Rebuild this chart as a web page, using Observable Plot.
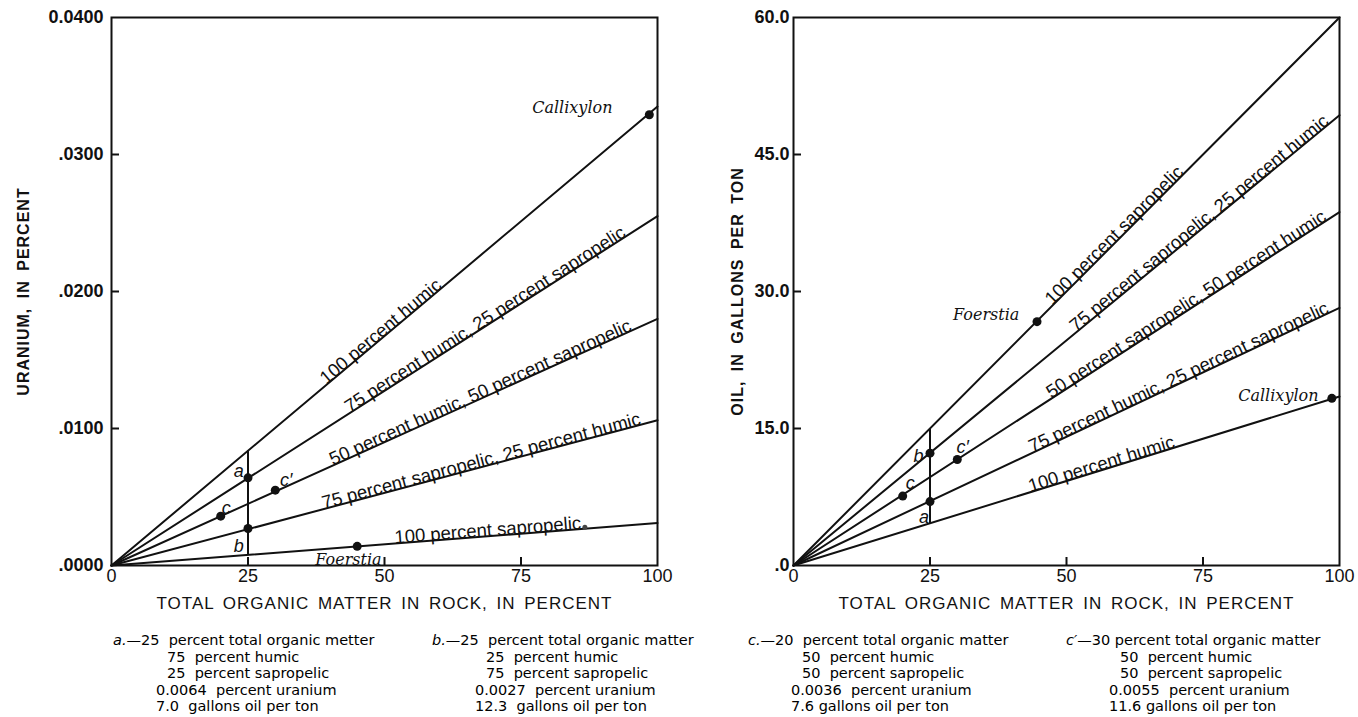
<!DOCTYPE html>
<html><head><meta charset="utf-8">
<script src="https://cdn.jsdelivr.net/npm/d3@7"></script>
<script src="https://cdn.jsdelivr.net/npm/@observablehq/plot@0.6"></script>
<style>
body{margin:0;background:#fff;}
#wrap{position:relative;width:1358px;height:717px;overflow:hidden;background:#fff;}
#left{position:absolute;left:0;top:0;}
#right{position:absolute;left:680px;top:0;}
.cap{position:absolute;top:632px;font-family:"DejaVu Sans",sans-serif;font-size:14.5px;line-height:16.5px;white-space:pre;color:#000;}
.cap div.i1{padding-left:54px;}
.cap div.i2{padding-left:43px;}
</style></head><body>
<div id="wrap"><div id="left"></div><div id="right"></div></div>
<script>
// ---------- data ----------
const xTicks = [0, 25, 50, 75, 100];
const xTickLabels = ["0", "25", "50", "75", "100"];
const xTitle = "TOTAL ORGANIC MATTER IN ROCK, IN PERCENT";

const uTicks = [0, 0.01, 0.02, 0.03, 0.04];
const uTickLabels = [".0000", ".0100", ".0200", ".0300", "0.0400"];
const uTitle = "URANIUM, IN PERCENT";
const uSeries = ["100 percent humic", "75 percent humic, 25 percent sapropelic", "50 percent humic, 50 percent sapropelic", "75 percent sapropelic, 25 percent humic", "100 percent sapropelic"];
const uAt100 = [0.0335, 0.0255, 0.0180, 0.0106, 0.0031];
const uLabelX = [50, 69, 68, 68, 69];

const oilTicks = [0, 15, 30, 45, 60];
const oilTickLabels = [".0", "15.0", "30.0", "45.0", "60.0"];
const oilTitle = "OIL, IN GALLONS PER TON";
const oilSeries = ["100 percent sapropelic", "75 percent sapropelic, 25 percent humic", "50 percent sapropelic, 50 percent humic", "75 percent humic, 25 percent sapropelic", "100 percent humic"];
const oilAt100 = [60, 49.3, 38.7, 28.2, 18.5];
const oilLabelX = [59.5, 75, 72.5, 71, 56.7];

const sampleNames = ["a", "b", "c", "c\u2032"];
const sampleOM = [25, 25, 20, 30];
const sampleU = [0.0064, 0.0027, 0.0036, 0.0055];
const sampleOil = [7.0, 12.3, 7.6, 11.6];
const uLetterX = [23.3, 23.3, 21, 32];
const uLetterY = [0.0069, 0.0014, 0.0042, 0.0062];
const oilLetterX = [23.9, 22.9, 21.4, 31];
const oilLetterY = [5.3, 12.0, 9.0, 12.9];

const fossils = ["Callixylon", "Foerstia"];
const fossilOMu = [98.5, 45];
const fossilU = [0.0329, 0.0014];
const fossilLabelUx = [84.4, 43.4];
const fossilLabelUy = [0.0334, 0.0004];
const fossilOMoil = [98.6, 44.6];
const fossilOil = [18.3, 26.7];
const fossilLabelOilX = [88.8, 35.3];
const fossilLabelOilY = [18.6, 27.4];
const strayU = [{x: 86.7, y: 0.0028}];

const rulerOM = 25;
const uRuler = [0.0008, 0.0084];
const oilRuler = [4.6, 15.0];

const capLefts = [113, 432, 748, 1066];
const captionA = ["<i>a.</i>\u201425  percent total organic metter", "75  percent humic", "25  percent sapropelic", "0.0064  percent uranium", "7.0  gallons oil per ton"];
const captionB = ["<i>b.</i>\u201425  percent total organic matter", "25  percent humic", "75  percent sapropelic", "0.0027  percent uranium", "12.3  gallons oil per ton"];
const captionC = ["<i>c.</i>\u201420  percent total organic matter", "50  percent humic", "50  percent sapropelic", "0.0036  percent uranium", "7.6 gallons oil per ton"];
const captionC2 = ["<i>c\u2032</i>\u201430 percent total organic matter", "50  percent humic", "50  percent sapropelic", "0.0055  percent uranium", "11.6 gallons oil per ton"];

// ---------- drawing ----------
const PW = 546, PH = 548;
const SANS = "Liberation Sans, Arial, sans-serif";
const SERIF = "DejaVu Serif, serif";
const INK = "#111";

function panel(cfg) {
  const lineRows = cfg.series.flatMap((s, i) => [{s, x: 0, y: 0}, {s, x: 100, y: cfg.at100[i]}]);
  const labelRows = cfg.series.map((s, i) => ({
    s, x: cfg.labelX[i], y: cfg.at100[i] * cfg.labelX[i] / 100,
    r: -Math.atan((cfg.at100[i] / cfg.yMax * PH) / PW) * 180 / Math.PI
  }));
  const samples = sampleNames.map((n, i) => ({n, x: sampleOM[i], y: cfg.sampleY[i], lx: cfg.letterX[i], ly: cfg.letterY[i]}));
  const fos = fossils.map((n, i) => ({n, x: cfg.fosX[i], y: cfg.fosY[i], lx: cfg.fosLX[i], ly: cfg.fosLY[i]}));
  const inner = cfg.yTicks.slice(1, -1);
  return Plot.plot({
    width: cfg.width, height: 620,
    marginLeft: cfg.ml, marginRight: cfg.width - cfg.ml - PW, marginTop: 17, marginBottom: 55,
    x: {domain: [0, 100]},
    y: {domain: [0, cfg.yMax]},
    style: {background: "white", color: INK, overflow: "visible"},
    marks: [
      Plot.line(lineRows, {x: "x", y: "y", z: "s", stroke: INK, strokeWidth: 2}),
      Plot.ruleX([{x: rulerOM, y1: cfg.ruler[0], y2: cfg.ruler[1]}], {x: "x", y1: "y1", y2: "y2", stroke: INK, strokeWidth: 2}),
      Plot.frame({stroke: INK, strokeWidth: 2}),
      Plot.axisX({ticks: [25, 50, 75], tickSize: 8, dy: -8, tickFormat: () => "", label: null, strokeWidth: 2}),
      Plot.axisY({ticks: inner, tickSize: 8, dx: 8, tickFormat: () => "", label: null, strokeWidth: 2}),
      Plot.axisX({ticks: xTicks, tickSize: 0, tickPadding: 4, tickFormat: d => xTickLabels[xTicks.indexOf(d)], label: null, fontSize: 18, fontFamily: SANS}),
      Plot.axisY({ticks: cfg.yTicks, tickSize: 0, tickPadding: cfg.yPad, tickFormat: d => cfg.yLabels[cfg.yTicks.indexOf(d)], label: null, fontSize: 18, fontWeight: "bold", fontFamily: SANS}),
      Plot.text([cfg.yTitle], {frameAnchor: "left", textAnchor: "middle", lineAnchor: "middle", rotate: -90, dx: cfg.yTitleDx, fontSize: 16, fontWeight: "bold", fontFamily: SANS}),
      Plot.text([xTitle], {frameAnchor: "bottom", textAnchor: "middle", lineAnchor: "middle", dy: 38, fontSize: 17, fontFamily: SANS}),
      Plot.text(labelRows, {x: "x", y: "y", text: "s", rotate: "r", lineAnchor: "bottom", fontSize: 18.5, fontFamily: SANS, fill: INK}),
      Plot.dot(samples, {x: "x", y: "y", r: 4.5, fill: INK}),
      Plot.text(samples, {x: "lx", y: "ly", text: "n", fontSize: 18, fontStyle: "italic", fontFamily: SANS, fill: INK}),
      Plot.dot(fos, {x: "x", y: "y", r: 4.5, fill: INK}),
      Plot.text(fos, {x: "lx", y: "ly", text: "n", fontSize: 16, fontStyle: "italic", fontFamily: SERIF, fill: INK}),
      Plot.dot(cfg.stray, {x: "x", y: "y", r: 2.5, fill: "#444"})
    ]
  });
}

const left = panel({
  width: 680, ml: 111, yMax: 0.04, yTicks: uTicks, yLabels: uTickLabels, yPad: 8,
  yTitle: uTitle, yTitleDx: -88, series: uSeries, at100: uAt100, labelX: uLabelX,
  sampleY: sampleU, letterX: uLetterX, letterY: uLetterY,
  fosX: fossilOMu, fosY: fossilU, fosLX: fossilLabelUx, fosLY: fossilLabelUy,
  ruler: uRuler, stray: strayU
});
const right = panel({
  width: 678, ml: 113, yMax: 60, yTicks: oilTicks, yLabels: oilTickLabels, yPad: 4,
  yTitle: oilTitle, yTitleDx: -56, series: oilSeries, at100: oilAt100, labelX: oilLabelX,
  sampleY: sampleOil, letterX: oilLetterX, letterY: oilLetterY,
  fosX: fossilOMoil, fosY: fossilOil, fosLX: fossilLabelOilX, fosLY: fossilLabelOilY,
  ruler: oilRuler, stray: []
});
document.getElementById("left").appendChild(left);
document.getElementById("right").appendChild(right);

for (const svg of [left, right]) {
  d3.select(svg).selectAll("text").each(function() {
    const t = this.textContent;
    if (t === xTitle) { this.style.letterSpacing = "1px"; this.style.wordSpacing = "3px"; }
    if (t === uTitle || t === oilTitle) { this.style.letterSpacing = "1px"; this.style.wordSpacing = "4px"; }
  });
}

const wrap = document.getElementById("wrap");
[captionA, captionB, captionC, captionC2].forEach((lines, k) => {
  const div = document.createElement("div");
  div.className = "cap";
  div.style.left = capLefts[k] + "px";
  div.innerHTML = lines.map((l, i) => `<div class="${i === 0 ? "" : (i < 3 ? "i1" : "i2")}">${l}</div>`).join("");
  wrap.appendChild(div);
});
</script>
</body></html>
